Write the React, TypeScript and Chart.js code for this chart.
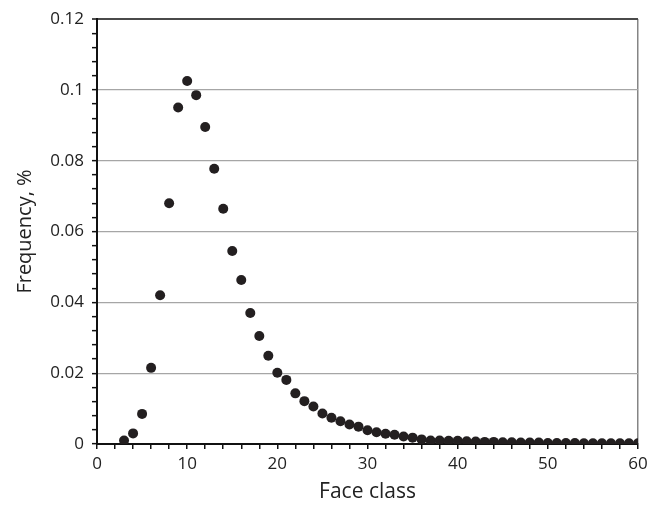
import React, { useEffect, useRef } from "react";
import { Chart, registerables } from "chart.js";

Chart.register(...registerables);

const faceClasses: number[] = [
  3, 4, 5, 6, 7, 8, 9, 10, 11, 12, 13, 14, 15, 16, 17, 18, 19, 20, 21, 22, 23, 24, 25, 26, 27, 28, 29, 30,
  31, 32, 33, 34, 35, 36, 37, 38, 39, 40, 41, 42, 43, 44, 45, 46, 47, 48, 49, 50, 51, 52, 53, 54, 55, 56,
  57, 58, 59, 60,
];
const frequencies: number[] = [
  0.001, 0.003, 0.0085, 0.0215, 0.042, 0.068, 0.095, 0.1025, 0.0985, 0.0895, 0.0777, 0.0664, 0.0545, 0.0463,
  0.037, 0.0305, 0.0249, 0.0201, 0.0181, 0.0143, 0.0121, 0.0106, 0.0086, 0.0074, 0.0064, 0.0055, 0.0049,
  0.0039, 0.0033, 0.0029, 0.0026, 0.0021, 0.0018, 0.0013, 0.001, 0.001, 0.0009, 0.0009, 0.0008, 0.0007,
  0.0006, 0.0006, 0.0005, 0.0005, 0.0004, 0.0004, 0.0004, 0.0003, 0.0003, 0.0003, 0.0003, 0.0002, 0.0002,
  0.0002, 0.0002, 0.0002, 0.0002, 0.0002,
];
const yTickLabels: Record<string, string> = {
  "0": "0", "0.02": "0.02", "0.04": "0.04", "0.06": "0.06", "0.08": "0.08", "0.1": "0.1", "0.12": "0.12",
};
const xTitle = "Face class";
const yTitle = "Frequency, %";

const FONT = "'Open Sans', sans-serif";

function isMultiple(v: number, step: number) {
  const r = v / step;
  return Math.abs(r - Math.round(r)) < 1e-6;
}

export default function App() {
  const ref = useRef<HTMLCanvasElement | null>(null);
  useEffect(() => {
    if (!ref.current) return;
    const chart = new Chart(ref.current, {
      type: "scatter",
      data: {
        datasets: [
          {
            data: faceClasses.map((x, i) => ({ x, y: frequencies[i] })),
            backgroundColor: "#231f20",
            borderWidth: 0,
            pointRadius: 5,
          },
        ],
      },
      options: {
        animation: false,
        responsive: true,
        maintainAspectRatio: false,
        layout: { padding: { left: 0, top: 19, right: 11, bottom: 0 } },
        plugins: { legend: { display: false }, tooltip: { enabled: false } },
        scales: {
          x: {
            type: "linear",
            min: 0,
            max: 60,
            afterFit: (s: any) => {
              s.height = 61;
              s.paddingRight = 0;
              s.paddingLeft = 0;
            },
            ticks: {
              stepSize: 2,
              autoSkip: false,
              maxRotation: 0,
              padding: 5,
              color: "#222",
              font: { family: FONT, size: 17 },
              callback: (v: any) => (isMultiple(Number(v), 10) ? String(Math.round(Number(v))) : ""),
            },
            grid: {
              drawOnChartArea: true,
              color: (c: any) => (c.tick && Math.abs(c.tick.value - 60) < 1e-6 ? "#858585" : "rgba(0,0,0,0)"),
              lineWidth: 1.5,
              tickColor: "#111",
              tickLength: 5,
              tickWidth: 1.5,
            },
            border: { color: "#111", width: 2 },
            title: {
              display: true,
              text: xTitle,
              color: "#222",
              font: { family: FONT, size: 21 },
              padding: { top: 0, bottom: 0 },
            },
          },
          y: {
            type: "linear",
            min: 0,
            max: 0.12,
            afterFit: (s: any) => {
              s.width = 97;
              s.paddingTop = 0;
              s.paddingBottom = 0;
            },
            ticks: {
              stepSize: 0.004,
              autoSkip: false,
              padding: 8,
              color: "#222",
              font: { family: FONT, size: 17 },
              callback: (v: any) => {
                const n = Number(v);
                if (!isMultiple(n, 0.02)) return "";
                const key = String(Math.round(n * 100) / 100);
                return yTickLabels[key] ?? key;
              },
            },
            grid: {
              color: (c: any) => {
                const v = c.tick ? c.tick.value : 0;
                if (Math.abs(v) < 1e-9) return "rgba(0,0,0,0)";
                if (Math.abs(v - 0.12) < 1e-9) return "#4a4a4a";
                return isMultiple(v, 0.02) ? "#a6a6a6" : "rgba(0,0,0,0)";
              },
              lineWidth: (c: any) => (c.tick && Math.abs(c.tick.value - 0.12) < 1e-9 ? 2 : 1.3),
              tickColor: "#111",
              tickLength: 5,
              tickWidth: 1.5,
            },
            border: { color: "#111", width: 2 },
            title: {
              display: true,
              text: yTitle,
              color: "#222",
              font: { family: FONT, size: 20 },
              padding: { top: 13, bottom: 0 },
            },
          },
        },
      },
    });
    return () => chart.destroy();
  }, []);
  return (
    <div style={{ position: "fixed", left: 0, top: 0, width: 649, height: 505, background: "#fff" }}>
      <canvas ref={ref} />
    </div>
  );
}
